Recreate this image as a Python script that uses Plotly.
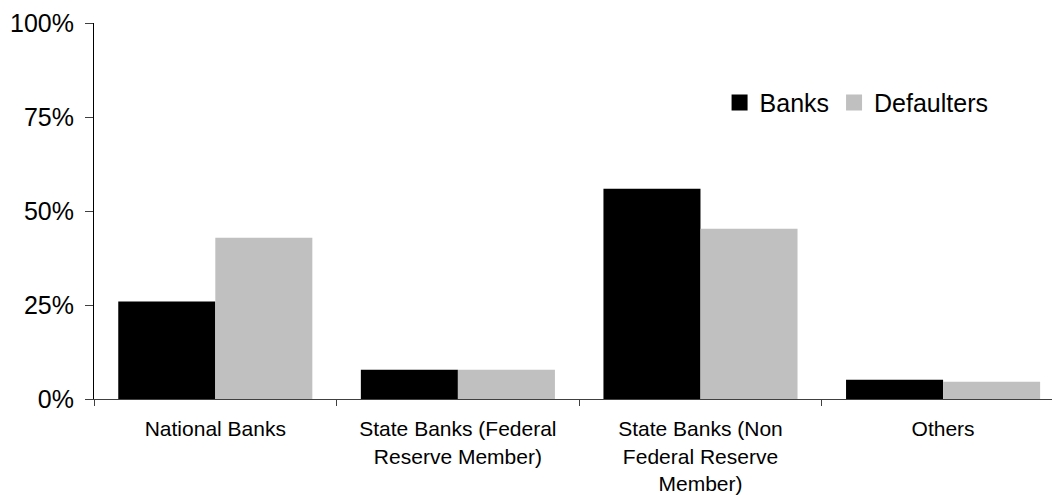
import plotly.graph_objects as go

# Share of institutions by charter type (percent)
categories = [
    "National Banks",
    "State Banks (Federal<br>Reserve Member)",
    "State Banks (Non<br>Federal Reserve<br>Member)",
    "Others",
]
banks = [25.9, 7.8, 55.9, 5.1]
defaulters = [42.9, 7.8, 45.3, 4.6]

series_names = ["Banks", "Defaulters"]
series_colors = ["#000000", "#C0C0C0"]

FONT = "Liberation Sans, Arial, sans-serif"

fig = go.Figure()
for name, vals, col in zip(series_names, [banks, defaulters], series_colors):
    fig.add_trace(go.Bar(
        x=categories, y=vals, name=name, marker=dict(color=col, line=dict(width=0)),
        showlegend=False,
    ))
    # legend swatch with a larger square
    fig.add_trace(go.Scatter(
        x=[None], y=[None], mode="markers", name=name,
        marker=dict(symbol="square", size=18, color=col),
        showlegend=True,
    ))

fig.update_layout(
    width=1052, height=495,
    margin=dict(l=94, r=0, t=23, b=96),
    paper_bgcolor="white", plot_bgcolor="white",
    barmode="group", bargap=0.2, bargroupgap=0,
    font=dict(family=FONT, color="black"),
    legend=dict(
        orientation="h", x=0.653, xanchor="left", y=0.788, yanchor="middle",
        font=dict(size=25, family=FONT), itemsizing="trace",
        bgcolor="rgba(0,0,0,0)", tracegroupgap=0,
    ),
    xaxis=dict(
        type="category", range=[-0.5, 3.449],
        showline=True, linecolor="#404040", linewidth=1,
        ticks="outside", tickson="boundaries", ticklen=6, tickcolor="#404040",
        ticklabelstandoff=11,
        showgrid=False, zeroline=False,
        tickfont=dict(size=21, family=FONT, color="black"),
    ),
    yaxis=dict(
        range=[0, 100], dtick=25, ticksuffix="%",
        showline=True, linecolor="#000000", linewidth=1,
        ticks="outside", ticklen=8, tickcolor="#404040",
        ticklabelstandoff=6,
        showgrid=False, zeroline=False,
        tickfont=dict(size=25, family=FONT, color="black"),
    ),
)

fig.write_html("out.html")
